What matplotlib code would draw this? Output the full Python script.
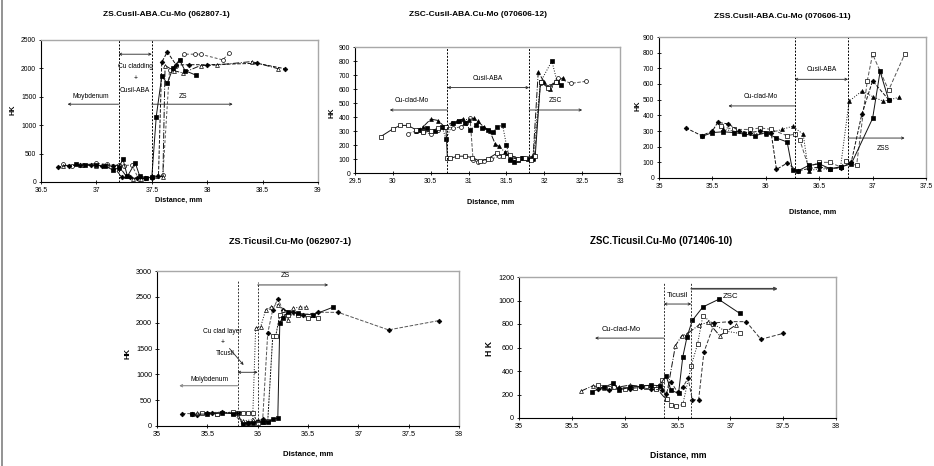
import numpy as np
import matplotlib
matplotlib.use( "Agg" )
import matplotlib.pyplot as plt

plt.rcParams["font.family"] = [ "Liberation Sans Narrow", "Liberation Sans", "DejaVu Sans" ]

# ========================================================= #
# ===  data           === #
# ========================================================= #

# --- [1] ZS.Cusil-ABA.Cu-Mo (062807-1) --- #
p1_dia_x = [ 36.65, 36.75, 36.85, 36.95, 37.05, 37.15, 37.23, 37.3, 37.37, 37.44, 37.5, 37.56, 37.59, 37.64, 37.72, 37.84, 38.0, 38.45, 38.7 ]
p1_dia_y = [ 265, 290, 300, 300, 285, 280, 85, 80, 70, 70, 75, 100, 2110, 2290, 2060, 2065, 2065, 2090, 1995 ]
p1_sq_x  = [ 36.82, 36.9, 37.0, 37.08, 37.15, 37.2, 37.24, 37.28, 37.35, 37.39, 37.45, 37.5, 37.54, 37.59, 37.64, 37.69, 37.75, 37.8, 37.9 ]
p1_sq_y  = [ 310, 305, 300, 280, 210, 250, 400, 100, 340, 110, 75, 80, 1150, 1860, 1740, 2000, 2150, 1960, 1880 ]
p1_tri_x = [ 36.7, 36.85, 37.0, 37.1, 37.2, 37.27, 37.33, 37.4, 37.55, 37.6, 37.62, 37.7, 37.78, 37.94, 38.09, 38.4, 38.64 ]
p1_tri_y = [ 290, 300, 290, 300, 290, 100, 60, 60, 110, 90, 2050, 1960, 1920, 2050, 2060, 2120, 1995 ]
p1_cir_x = [ 36.7, 36.78, 36.88, 37.0, 37.1, 37.2, 37.25, 37.32, 37.38, 37.45, 37.5, 37.6, 37.66, 37.72, 37.79, 37.89, 37.94, 38.14, 38.2 ]
p1_cir_y = [ 310, 290, 300, 330, 310, 300, 290, 300, 60, 70, 80, 120, 1980, 2050, 2250, 2250, 2250, 2150, 2270 ]

# --- [2] ZSC-Cusil-ABA.Cu-Mo (070606-12) --- #
p2_osq_x = [ 29.84, 30.0, 30.1, 30.2, 30.3, 30.4, 30.5, 30.6, 30.7, 30.72, 30.76, 30.85, 30.95, 31.05, 31.15, 31.25, 31.37, 31.46, 31.55, 31.65, 31.75, 31.82, 31.88, 31.95, 32.05, 32.15 ]
p2_osq_y = [ 260, 315, 340, 340, 310, 290, 300, 320, 330, 110, 105, 120, 120, 110, 85, 100, 140, 120, 130, 100, 110, 90, 120, 650, 610, 650 ]
p2_tri_x = [ 30.3, 30.4, 30.5, 30.6, 30.68, 30.78, 30.85, 30.92, 31.0, 31.07, 31.12, 31.2, 31.28, 31.35, 31.4, 31.48, 31.55, 31.65, 31.75, 31.85, 31.92, 32.0, 32.07, 32.15, 32.25 ]
p2_tri_y = [ 300, 330, 385, 375, 330, 360, 370, 385, 380, 390, 370, 330, 300, 210, 190, 150, 110, 100, 110, 100, 720, 650, 600, 650, 680 ]
p2_fsq_x = [ 30.35, 30.45, 30.55, 30.65, 30.7, 30.8, 30.88, 30.95, 31.02, 31.1, 31.18, 31.25, 31.32, 31.38, 31.45, 31.5, 31.55, 31.6, 31.65, 31.7, 31.78, 31.85, 31.95, 32.1, 32.17, 32.22 ]
p2_fsq_y = [ 310, 320, 300, 330, 245, 360, 370, 360, 310, 340, 320, 310, 290, 330, 340, 200, 90, 80, 90, 110, 100, 110, 650, 800, 650, 630 ]
p2_cir_x = [ 30.2, 30.3, 30.4, 30.5, 30.6, 30.7, 30.8, 30.9, 30.97, 31.02, 31.06, 31.12, 31.2, 31.3, 31.4, 31.5, 31.6, 31.7, 31.8, 31.87, 31.95, 32.08, 32.18, 32.35, 32.55 ]
p2_cir_y = [ 280, 300, 290, 280, 310, 330, 320, 330, 360, 390, 90, 80, 85, 100, 120, 140, 110, 110, 110, 130, 640, 620, 680, 640, 655 ]

# --- [3] ZSS.Cusil-ABA.Cu-Mo (070606-11) --- #
p3_dia_x = [ 35.25, 35.4, 35.5, 35.55, 35.65, 35.75, 35.85, 35.95, 36.05, 36.1, 36.2, 36.3, 36.4, 36.5, 36.6, 36.7, 36.8, 36.9, 37.0, 37.15 ]
p3_dia_y = [ 320, 270, 300, 355, 345, 300, 290, 300, 290, 55, 95, 45, 60, 70, 60, 65, 100, 410, 620, 500 ]
p3_sq_x  = [ 35.4, 35.5, 35.6, 35.7, 35.8, 35.9, 36.0, 36.1, 36.2, 36.25, 36.3, 36.4, 36.5, 36.6, 36.7, 36.8, 37.0, 37.07, 37.15 ]
p3_sq_y  = [ 265, 290, 295, 290, 280, 270, 290, 255, 230, 50, 45, 80, 90, 60, 70, 90, 380, 680, 500 ]
p3_tri_x = [ 35.6, 35.8, 36.0, 36.15, 36.25, 36.35, 36.4, 36.5, 36.6, 36.7, 36.78, 36.9, 37.0, 37.1, 37.25 ]
p3_tri_y = [ 310, 290, 280, 310, 330, 280, 45, 60, 55, 70, 490, 555, 520, 490, 515 ]
p3_osq_x = [ 35.58, 35.7, 35.85, 35.95, 36.05, 36.2, 36.27, 36.32, 36.4, 36.5, 36.6, 36.7, 36.75, 36.85, 36.95, 37.0, 37.15, 37.3 ]
p3_osq_y = [ 330, 310, 310, 320, 310, 270, 280, 240, 70, 100, 100, 70, 110, 80, 620, 790, 560, 790 ]

# --- [4] ZS.Ticusil.Cu-Mo (062907-1) --- #
p4_dia_x = [ 35.25, 35.35, 35.4, 35.5, 35.55, 35.65, 35.75, 35.85, 35.9, 35.95, 36.0, 36.05, 36.1, 36.15, 36.2, 36.25, 36.35, 36.45, 36.6, 36.8, 37.3, 37.8 ]
p4_dia_y = [ 240, 240, 220, 250, 260, 270, 250, 60, 60, 80, 100, 130, 1800, 2250, 2460, 2250, 2200, 2150, 2200, 2200, 1860, 2040 ]
p4_sq_x  = [ 35.35, 35.5, 35.65, 35.75, 35.8, 35.85, 35.9, 35.95, 36.05, 36.1, 36.15, 36.2, 36.22, 36.25, 36.3, 36.4, 36.55, 36.75 ]
p4_sq_y  = [ 230, 230, 250, 240, 250, 40, 50, 50, 80, 80, 130, 150, 2000, 2100, 2200, 2180, 2150, 2300 ]
p4_tri_x = [ 35.4, 35.6, 35.75, 35.85, 35.95, 35.98, 36.03, 36.08, 36.13, 36.2, 36.25, 36.3, 36.35, 36.42, 36.48 ]
p4_tri_y = [ 260, 240, 260, 100, 120, 1900, 1920, 2250, 2300, 2350, 2250, 2050, 2280, 2300, 2300 ]
p4_osq_x = [ 35.45, 35.6, 35.75, 35.85, 35.9, 35.95, 36.0, 36.05, 36.1, 36.15, 36.18, 36.22, 36.3, 36.4, 36.5, 36.6 ]
p4_osq_y = [ 260, 240, 270, 260, 260, 260, 60, 80, 90, 1750, 1750, 2150, 2150, 2150, 2100, 2100 ]

# --- [5] ZSC.Ticusil.Cu-Mo (071406-10) --- #
p5_sq_x  = [ 35.69, 35.8, 35.89, 35.95, 36.05, 36.15, 36.25, 36.33, 36.39, 36.44, 36.51, 36.55, 36.59, 36.64, 36.74, 36.89, 37.09 ]
p5_sq_y  = [ 225, 260, 295, 240, 260, 270, 280, 275, 360, 235, 210, 520, 690, 830, 945, 1010, 890 ]
p5_dia_x = [ 35.75, 35.85, 35.95, 36.05, 36.15, 36.25, 36.35, 36.39, 36.44, 36.5, 36.55, 36.6, 36.64, 36.7, 36.75, 36.85, 37.0, 37.15, 37.29, 37.5 ]
p5_dia_y = [ 250, 240, 255, 250, 260, 245, 240, 205, 305, 220, 260, 340, 155, 155, 560, 810, 820, 820, 670, 720 ]
p5_tri_x = [ 35.59, 35.7, 35.8, 35.95, 36.05, 36.15, 36.3, 36.39, 36.48, 36.54, 36.59, 36.7, 36.79, 36.9, 37.05 ]
p5_tri_y = [ 230, 275, 255, 265, 280, 270, 255, 160, 615, 700, 715, 790, 815, 700, 790 ]
p5_osq_x = [ 35.75, 35.85, 35.9, 36.0, 36.1, 36.2, 36.3, 36.35, 36.4, 36.44, 36.49, 36.55, 36.63, 36.69, 36.74, 36.84, 36.95, 37.09 ]
p5_osq_y = [ 285, 255, 265, 245, 255, 265, 250, 320, 160, 110, 100, 115, 445, 630, 870, 800, 740, 720 ]

titles = [ "ZS.Cusil-ABA.Cu-Mo (062807-1)", "ZSC-Cusil-ABA.Cu-Mo (070606-12)",
           "ZSS.Cusil-ABA.Cu-Mo (070606-11)", "ZS.Ticusil.Cu-Mo (062907-1)",
           "ZSC.Ticusil.Cu-Mo (071406-10)" ]

# ========================================================= #
# ===  helpers                                          === #
# ========================================================= #
W, H = 934, 466

def rect( l, t, r, b ):
    return [ l/W, 1.0-b/H, (r-l)/W, (b-t)/H ]

def ftext( ax_fig, x, y, s, **kw ):
    ax_fig.text( x/W, 1.0-y/H, s, ha="center", va="center", **kw )

def style__axes( ax, xlim, ylim, xstep, ystep, fs=4.9 ):
    ax.set_xlim( xlim )
    ax.set_ylim( ylim )
    ax.set_xticks( np.arange( xlim[0], xlim[1]+1e-6, xstep ) )
    ax.set_yticks( np.arange( ylim[0], ylim[1]+1e-6, ystep ) )
    ax.xaxis.set_major_formatter( plt.FuncFormatter( lambda v, p: ( "%g" % v ) ) )
    ax.tick_params( direction="inout", length=3, width=0.6, labelsize=fs, pad=2 )
    for k in [ "left", "bottom" ]:
        ax.spines[k].set_color( "black" ); ax.spines[k].set_linewidth( 0.8 )
    for k in [ "top", "right" ]:
        ax.spines[k].set_color( "#a8a8a8" ); ax.spines[k].set_linewidth( 1.0 )

def series( ax, x, y, marker, filled, ls, color="#111111", ms=2.8 ):
    ax.plot( x, y, linestyle=ls, color=color, lw=0.7, marker=marker, ms=ms,
             mfc=( "black" if filled else "white" ), mec="black", mew=0.5 )

def arrow( ax, x0, x1, y, style="->", color="#222222", lw=0.6 ):
    ax.annotate( "", xy=( x1, y ), xytext=( x0, y ),
                 arrowprops=dict( arrowstyle=style, lw=lw, color=color,
                                  shrinkA=0, shrinkB=0, mutation_scale=4 ) )

# ========================================================= #
# ===  figure                                           === #
# ========================================================= #
fig = plt.figure( figsize=( 9.34, 4.66 ), dpi=100 )
fig.add_artist( plt.Line2D( [ 1.5/W, 1.5/W ], [ 0, 1 ], color="#808080", lw=1.2 ) )
afs = 4.8

# --- [1] --- #
ax1 = fig.add_axes( rect( 41, 40, 318, 182 ) )
style__axes( ax1, ( 36.5, 39 ), ( 0, 2500 ), 0.5, 500 )
series( ax1, p1_cir_x, p1_cir_y, "o", False, ( 0, ( 3, 2 ) ), color="#555555" )
series( ax1, p1_tri_x, p1_tri_y, "^", False, "-." )
series( ax1, p1_dia_x, p1_dia_y, "D", True, "--", ms=2.4 )
series( ax1, p1_sq_x,  p1_sq_y,  "s", True, "-" )
for xv in [ 37.2, 37.5 ]:
    ax1.axvline( xv, color="black", ls=( 0, ( 2, 1.5 ) ), lw=0.7 )
arrow( ax1, 37.2, 36.74, 1370 )
arrow( ax1, 37.2, 37.5, 2250, style="<->" )
arrow( ax1, 37.5, 38.23, 1370 )
ax1.text( 36.95, 1450, "Moybdenum", fontsize=afs, ha="center", va="bottom" )
ax1.text( 37.35, 2030, "Cu cladding", fontsize=afs, ha="center", va="center" )
ax1.text( 37.35, 1815, "+", fontsize=afs, ha="center", va="center" )
ax1.text( 37.35, 1610, "Cusil-ABA", fontsize=afs, ha="center", va="center" )
ax1.text( 37.78, 1450, "ZS", fontsize=afs, ha="center", va="bottom" )

# --- [2] --- #
ax2 = fig.add_axes( rect( 355, 47, 620, 173 ) )
style__axes( ax2, ( 29.5, 33 ), ( 0, 900 ), 0.5, 100 )
series( ax2, p2_cir_x, p2_cir_y, "o", False, "--", color="#555555" )
series( ax2, p2_tri_x, p2_tri_y, "^", True, "-." )
series( ax2, p2_fsq_x, p2_fsq_y, "s", True, ":" )
series( ax2, p2_osq_x, p2_osq_y, "s", False, "-" )
for xv in [ 30.72, 31.8 ]:
    ax2.axvline( xv, color="black", ls=( 0, ( 2, 1.5 ) ), lw=0.7 )
arrow( ax2, 30.72, 29.96, 450 )
arrow( ax2, 30.72, 31.8, 610, style="<->" )
arrow( ax2, 31.8, 32.5, 450 )
ax2.text( 30.25, 490, "Cu-clad-Mo", fontsize=afs, ha="center", va="bottom" )
ax2.text( 31.25, 650, "Cusil-ABA", fontsize=afs, ha="center", va="bottom" )
ax2.text( 32.15, 490, "ZSC", fontsize=afs, ha="center", va="bottom" )

# --- [3] --- #
ax3 = fig.add_axes( rect( 659, 37, 926, 178 ) )
style__axes( ax3, ( 35, 37.5 ), ( 0, 900 ), 0.5, 100 )
series( ax3, p3_osq_x, p3_osq_y, "s", False, ( 0, ( 4, 2 ) ), color="#555555" )
series( ax3, p3_tri_x, p3_tri_y, "^", True, ":" )
series( ax3, p3_dia_x, p3_dia_y, "D", True, "--", ms=2.4 )
series( ax3, p3_sq_x,  p3_sq_y,  "s", True, "-" )
for xv in [ 36.27, 36.77 ]:
    ax3.axvline( xv, color="black", ls=( 0, ( 2, 1.5 ) ), lw=0.7 )
arrow( ax3, 36.27, 35.65, 460 )
arrow( ax3, 36.27, 36.77, 630, style="<->" )
arrow( ax3, 36.77, 37.3, 255 )
ax3.text( 35.95, 500, "Cu-clad-Mo", fontsize=afs, ha="center", va="bottom" )
ax3.text( 36.52, 670, "Cusil-ABA", fontsize=afs, ha="center", va="bottom" )
ax3.text( 37.1, 190, "ZSS", fontsize=afs, ha="center", va="center" )

# --- [4] --- #
ax4 = fig.add_axes( rect( 157, 271, 459, 426 ) )
style__axes( ax4, ( 35, 38 ), ( 0, 3000 ), 0.5, 500, fs=5.2 )
series( ax4, p4_dia_x, p4_dia_y, "D", True, "--", color="#555555", ms=2.4 )
series( ax4, p4_tri_x, p4_tri_y, "^", False, ":" )
series( ax4, p4_osq_x, p4_osq_y, "s", False, ( 0, ( 2, 1 ) ) )
series( ax4, p4_sq_x,  p4_sq_y,  "s", True, "-" )
ax4.vlines( [ 35.8, 36.0 ], 0, [ 2830, 2790 ], colors="#333333", linestyles=( 0, ( 2, 1.5 ) ), lw=0.7 )
arrow( ax4, 35.8, 35.22, 780, color="#888888", lw=0.8 )
arrow( ax4, 35.8, 36.0, 1040, style="<->" )
arrow( ax4, 36.0, 36.7, 2730 )
ax4.annotate( "", xy=( 35.86, 1180 ), xytext=( 35.72, 1500 ),
              arrowprops=dict( arrowstyle="->", lw=0.6, color="#222222",
                               shrinkA=0, shrinkB=0, mutation_scale=4 ) )
ax4.text( 35.52, 830, "Molybdenum", fontsize=afs, ha="center", va="bottom" )
ax4.text( 35.65, 1820, "Cu clad layer", fontsize=afs, ha="center", va="center" )
ax4.text( 35.65, 1620, "+", fontsize=afs, ha="center", va="center" )
ax4.text( 35.68, 1410, "Ticusil", fontsize=afs, ha="center", va="center" )
ax4.text( 36.28, 2840, "ZS", fontsize=afs+0.4, ha="center", va="bottom" )

# --- [5] --- #
ax5 = fig.add_axes( rect( 519, 277, 836, 418 ) )
style__axes( ax5, ( 35, 38 ), ( 0, 1200 ), 0.5, 200, fs=5.2 )
series( ax5, p5_tri_x, p5_tri_y, "^", False, "-." )
series( ax5, p5_osq_x, p5_osq_y, "s", False, ":" )
series( ax5, p5_dia_x, p5_dia_y, "D", True, ( 0, ( 4, 2 ) ), color="#333333", ms=2.4 )
series( ax5, p5_sq_x,  p5_sq_y,  "s", True, "-" )
ax5.vlines( [ 36.37, 36.63 ], 0, 1160, colors="#333333", linestyles=( 0, ( 2, 1.5 ) ), lw=0.7 )
arrow( ax5, 36.37, 35.72, 680 )
arrow( ax5, 36.37, 36.63, 970, style="<->" )
arrow( ax5, 36.63, 37.45, 1100, color="#444444", lw=1.2 )
ax5.text( 35.97, 720, "Cu-clad-Mo", fontsize=afs+0.6, ha="center", va="bottom" )
ax5.text( 36.5, 1010, "Ticusil", fontsize=afs+0.6, ha="center", va="bottom" )
ax5.text( 37.0, 1060, "ZSC", fontsize=afs+0.8, ha="center", va="top" )

# --- titles and axis labels --- #
tpos = [ ( 166, 15 ), ( 478, 15 ), ( 782, 16 ), ( 290, 241 ), ( 661, 241 ) ]
tfs  = [ 6.0, 6.0, 6.0, 6.6, 7.0 ]
for ( x, y ), s, f in zip( tpos, titles, tfs ):
    ftext( fig, x, y, s, fontsize=f, fontweight="bold" )
xl_pos = [ ( 179, 200 ), ( 491, 202 ), ( 813, 212 ), ( 308, 454 ), ( 678, 455 ) ]
xl_fs  = [ 5.2, 5.2, 5.2, 5.6, 6.2 ]
for ( x, y ), f in zip( xl_pos, xl_fs ):
    ftext( fig, x, y, "Distance, mm", fontsize=f, fontweight="bold" )
yl_pos = [ ( 13, 110 ), ( 332, 113 ), ( 638, 106 ), ( 128, 353 ), ( 490, 348 ) ]
yl_txt = [ "HK", "HK", "HK", "HK", "H K" ]
yl_fs  = [ 5.2, 5.2, 5.2, 5.6, 6.2 ]
for ( x, y ), s, f in zip( yl_pos, yl_txt, yl_fs ):
    ftext( fig, x, y, s, fontsize=f, fontweight="bold", rotation=90 )

fig.savefig( "out.png", dpi=100 )
